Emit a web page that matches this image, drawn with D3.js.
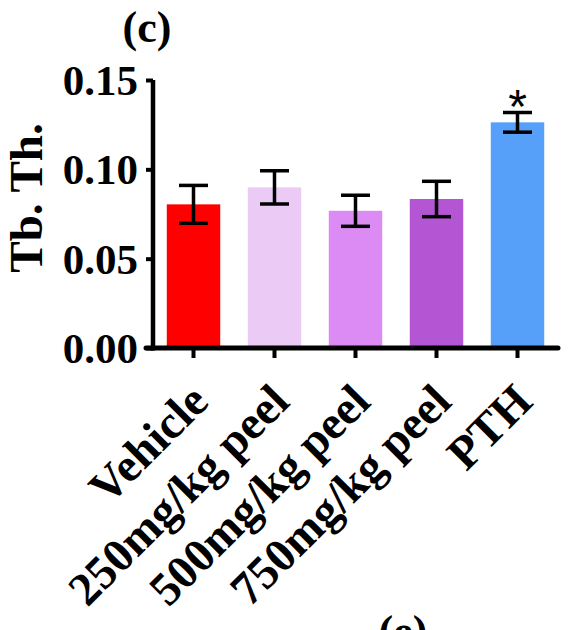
<!DOCTYPE html>
<html>
<head>
<meta charset="utf-8">
<script src="https://cdn.jsdelivr.net/npm/d3@7"></script>
<style>
  body { margin: 0; background: #fff; }
  svg text { font-family: "Liberation Serif", "Times New Roman", serif; font-weight: bold; }
</style>
</head>
<body>
<div class="graph"></div>
<script>
// data
let groups = ["Vehicle", "250mg/kg peel", "500mg/kg peel", "750mg/kg peel", "PTH"];
let means  = [0.0804, 0.0899, 0.0768, 0.0834, 0.1263];
let sems   = [0.0106, 0.0093, 0.0087, 0.0099, 0.0055];
let colors = ["#ff0000", "#ebcbf6", "#dc8af4", "#b455d4", "#56a0fa"];
let marks  = ["", "", "", "", "*"];
let yTicks = [0, 0.05, 0.10, 0.15];

let WIDTH = 573, HEIGHT = 630;
let svg = d3.select("div.graph").append("svg")
    .attr("width", WIDTH)
    .attr("height", HEIGHT);

let x = d3.scaleBand()
    .domain(groups)
    .range([153, 558])
    .paddingInner(0.34)
    .paddingOuter(0.17);

let y = d3.scaleLinear()
    .domain([0, 0.15])
    .range([348, 80]);

// bars
svg.append("g").selectAll("rect")
  .data(groups)
  .enter().append("rect")
    .attr("x", d => x(d))
    .attr("width", x.bandwidth())
    .attr("y", (d, i) => y(means[i]))
    .attr("height", (d, i) => y(0) - y(means[i]))
    .attr("fill", (d, i) => colors[i]);

// error bars
let eb = svg.append("g")
    .attr("stroke", "#000")
    .attr("stroke-width", 3.5)
    .selectAll("g")
  .data(groups)
  .enter().append("g")
    .attr("transform", d => "translate(" + (x(d) + x.bandwidth() / 2) + ",0)");
eb.append("line")
    .attr("y1", (d, i) => y(means[i] + sems[i]))
    .attr("y2", (d, i) => y(means[i] - sems[i]));
eb.append("line")
    .attr("x1", -14.5).attr("x2", 14.5)
    .attr("y1", (d, i) => y(means[i] + sems[i]))
    .attr("y2", (d, i) => y(means[i] + sems[i]));
eb.append("line")
    .attr("x1", -14.5).attr("x2", 14.5)
    .attr("y1", (d, i) => y(means[i] - sems[i]))
    .attr("y2", (d, i) => y(means[i] - sems[i]));

// significance marks
svg.append("g").selectAll("text")
  .data(groups)
  .enter().append("text")
    .attr("x", d => x(d) + x.bandwidth() / 2)
    .attr("y", (d, i) => y(means[i] + sems[i]) + 10)
    .attr("text-anchor", "middle")
    .style("font-family", "'Liberation Sans', Arial, sans-serif")
    .style("font-weight", "normal")
    .style("font-size", "48px")
    .text((d, i) => marks[i]);

// y axis
let yAxis = svg.append("g")
    .attr("transform", "translate(153,0)")
    .call(d3.axisLeft(y).tickValues(yTicks).tickFormat(d3.format(".2f")).tickSize(7).tickPadding(8));
yAxis.select(".domain").attr("stroke-width", 4.5).attr("d", "M0," + y(0.15) + "V" + (y(0) + 2.5));
yAxis.selectAll(".tick line").attr("stroke-width", 4);
yAxis.selectAll(".tick text")
    .style("font-size", "43px")
    .attr("dy", "0.34em");

// x axis
let xAxis = svg.append("g")
    .attr("transform", "translate(0," + y(0) + ")")
    .call(d3.axisBottom(x).tickSize(10).tickFormat(""));
xAxis.select(".domain").attr("stroke-width", 5).attr("stroke-linecap", "round")
    .attr("d", "M146,0H558");
xAxis.selectAll(".tick line").attr("stroke-width", 4);

// rotated category labels
svg.append("g").selectAll("text")
  .data(groups)
  .enter().append("text")
    .attr("text-anchor", "end")
    .attr("transform", d => "translate(" + (x(d) + x.bandwidth() / 2 + 17) + ",404) rotate(-45)")
    .style("font-size", "47px")
    .text(d => d);

// y axis title
svg.append("text")
    .attr("text-anchor", "middle")
    .attr("transform", "translate(42,198) rotate(-90)")
    .style("font-size", "47px")
    .text("Tb. Th.");

// panel letters
svg.append("text")
    .attr("x", 147).attr("y", 42)
    .attr("text-anchor", "middle")
    .style("font-size", "44px")
    .text("(c)");
svg.append("text")
    .attr("x", 403).attr("y", 646)
    .attr("text-anchor", "middle")
    .style("font-size", "44px")
    .text("(e)");
</script>
</body>
</html>
